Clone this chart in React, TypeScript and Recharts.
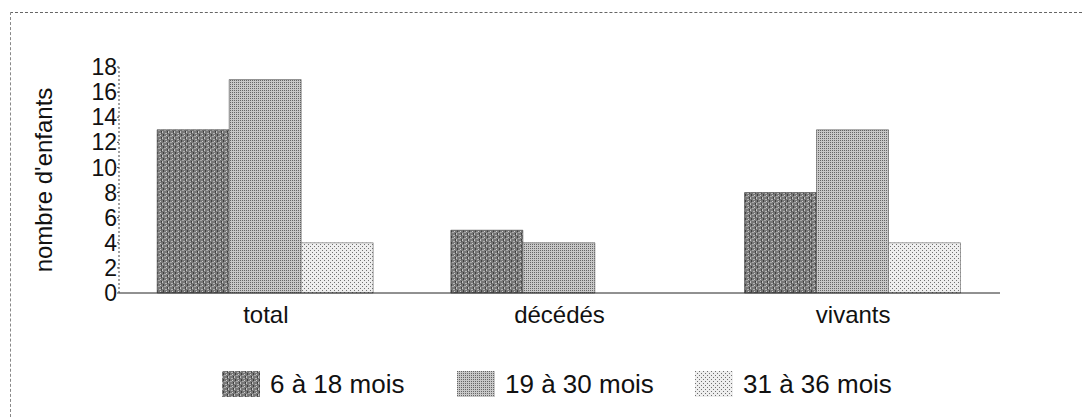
import { Bar, BarChart, XAxis, YAxis } from "recharts"

const categories = ["total", "décédés", "vivants"]
const ageGroups = ["6 à 18 mois", "19 à 30 mois", "31 à 36 mois"]
const young = [13, 5, 8]
const middle = [17, 4, 13]
const older = [4, 0, 4]
const yTicks = [0, 2, 4, 6, 8, 10, 12, 14, 16, 18]
const boundaryTicks = [0, 1, 2, 3]

const data = categories.map((name, i) => ({
  name,
  a: young[i],
  b: middle[i],
  c: older[i],
}))

const fills = ["url(#pat1)", "url(#pat2)", "url(#pat3)"]
const legendLefts = [222, 457, 695]
const FONT = "'Liberation Sans', Arial, sans-serif"

// légende en HTML, posée sous le graphique
const LegendBox = () => (
  <>
    {ageGroups.map((g, i) => (
      <div
        key={g}
        style={{
          position: "absolute",
          left: legendLefts[i],
          top: 371,
          display: "flex",
          alignItems: "center",
          fontFamily: FONT,
          fontSize: 26,
          color: "#111",
          whiteSpace: "nowrap",
        }}
      >
        <svg width={38} height={26} style={{ marginRight: 10, display: "block" }}>
          <rect x={0} y={0} width={38} height={26} fill={fills[i]} />
        </svg>
        <span style={{ lineHeight: "26px" }}>{g}</span>
      </div>
    ))}
  </>
)

export default function App() {
  return (
    <div
      style={{
        position: "fixed",
        left: 0,
        top: 0,
        width: 1082,
        height: 417,
        background: "#fff",
      }}
    >
      <div
        style={{
          position: "absolute",
          left: 10,
          top: 12,
          right: 0,
          bottom: 0,
          borderTop: "1px dashed #666",
          borderLeft: "1px dashed #888",
        }}
      />
      <BarChart
        width={1082}
        height={417}
        data={data}
        margin={{ top: 67, right: 82, bottom: 0, left: 0 }}
        barCategoryGap="13%"
        barGap={0}
        style={{ position: "absolute", left: 0, top: 0 }}
      >
        <defs>
          <pattern id="pat1" width={6} height={6} patternUnits="userSpaceOnUse">
            <rect width={6} height={6} fill="#787878" />
            <rect x={0} y={0} width={1} height={1} fill="#c8c8c8" />
            <rect x={3} y={1} width={2} height={1} fill="#b4b4b4" />
            <rect x={1} y={2} width={1} height={2} fill="#404040" />
            <rect x={4} y={3} width={1} height={1} fill="#d0d0d0" />
            <rect x={2} y={4} width={2} height={1} fill="#a8a8a8" />
            <rect x={5} y={5} width={1} height={1} fill="#3a3a3a" />
            <rect x={0} y={5} width={1} height={1} fill="#bdbdbd" />
            <rect x={5} y={0} width={1} height={2} fill="#505050" />
          </pattern>
          <pattern id="pat2" width={2} height={2} patternUnits="userSpaceOnUse">
            <rect width={2} height={2} fill="#c8c8c8" />
            <rect x={0} y={0} width={1} height={1} fill="#666" />
          </pattern>
          <pattern id="pat3" width={4} height={4} patternUnits="userSpaceOnUse">
            <rect width={4} height={4} fill="#eeeeee" />
            <rect x={0} y={0} width={1} height={1} fill="#707070" />
            <rect x={2} y={2} width={1} height={1} fill="#707070" />
          </pattern>
        </defs>
        <XAxis
          dataKey="name"
          height={124}
          stroke="#222"
          tickLine={false}
          tickMargin={7}
          tick={{ fontFamily: FONT, fontSize: 24, fill: "#111" }}
        />
        <XAxis
          xAxisId="bounds"
          type="number"
          domain={[0, 3]}
          allowDataOverflow
          ticks={boundaryTicks}
          interval={0}
          orientation="bottom"
          height={0}
          axisLine={false}
          tick={() => <g />}
          tickSize={6}
          stroke="#111"
        />
        <YAxis
          width={119}
          domain={[0, 18]}
          ticks={yTicks}
          interval={0}
          stroke="#444"
          strokeDasharray="2 2"
          tickSize={2}
          tickMargin={0}
          tick={{ fontFamily: FONT, fontSize: 23, fill: "#111" }}
          label={{
            value: "nombre d'enfants",
            angle: -90,
            position: "insideLeft",
            offset: 43,
            style: { textAnchor: "middle", fontFamily: FONT, fontSize: 24, fill: "#111" },
          }}
        />
        <YAxis
          yAxisId="inner"
          mirror
          domain={[0, 18]}
          ticks={yTicks}
          interval={0}
          axisLine={false}
          tick={() => <g />}
          tickSize={7}
          stroke="#444"
        />
        <Bar dataKey="a" name={ageGroups[0]} fill={fills[0]} stroke="#3a3a3a" strokeWidth={0.6} isAnimationActive={false} />
        <Bar dataKey="b" name={ageGroups[1]} fill={fills[1]} stroke="#555" strokeWidth={0.6} isAnimationActive={false} />
        <Bar dataKey="c" name={ageGroups[2]} fill={fills[2]} stroke="#666" strokeWidth={0.6} isAnimationActive={false} />
      </BarChart>
      <LegendBox />
    </div>
  )
}
